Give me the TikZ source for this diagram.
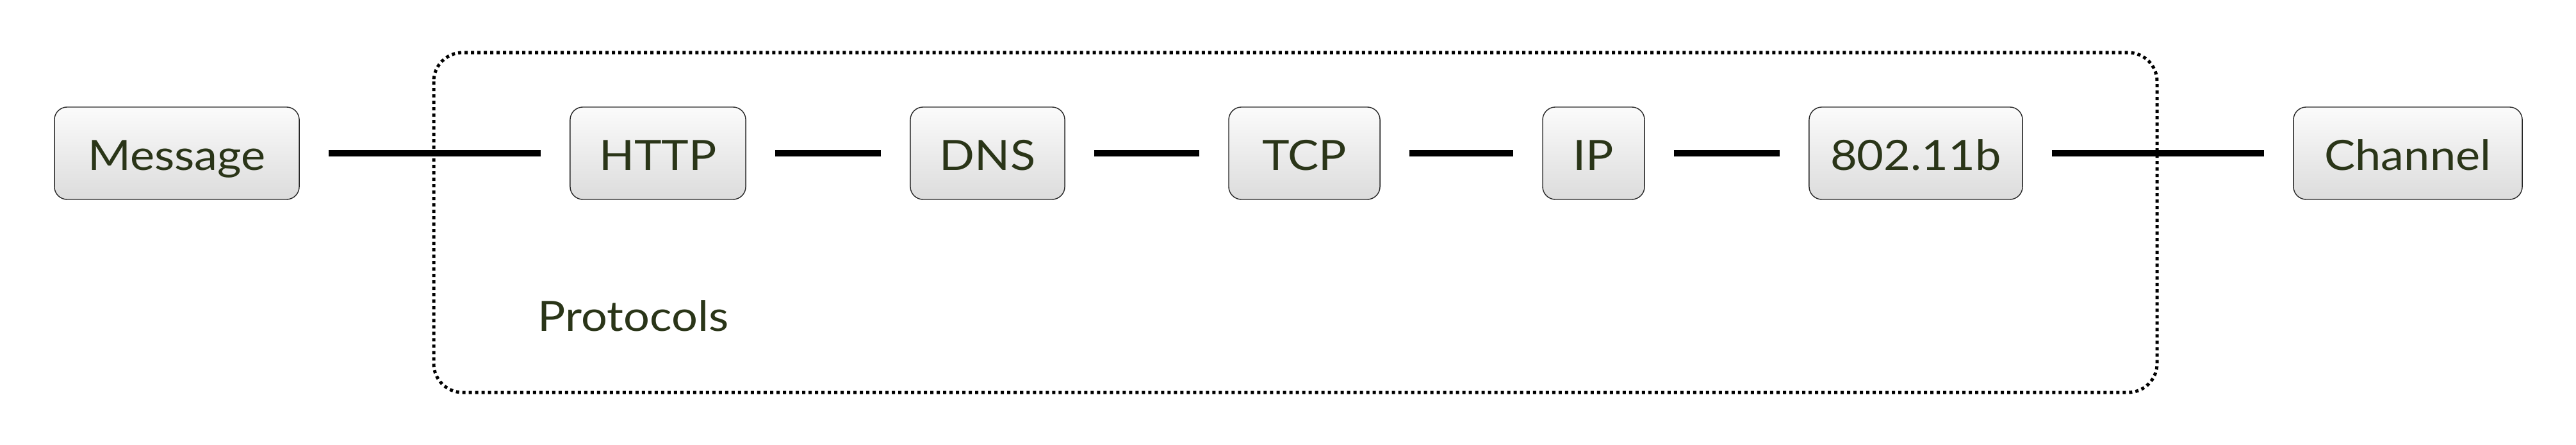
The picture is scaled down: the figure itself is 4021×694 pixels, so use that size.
\documentclass[tikz,border=0pt]{standalone}
\usepackage{fontspec}
\setmainfont[FakeStretch=1.11]{Lato}
\definecolor{txt}{RGB}{42,53,24}
\definecolor{boxbot}{RGB}{220,220,220}
\definecolor{boxtop}{RGB}{251,251,251}
\begin{document}
\begin{tikzpicture}[x=0.01cm,y=-0.01cm,
  proto/.style={draw=black!85, line width=0.4pt, rounded corners=0.2cm,
    top color=boxtop, bottom color=boxbot, minimum height=1.44cm,
    inner sep=0pt, text height=0.52cm, text depth=0pt,
    font=\fontsize{18.5}{20}\selectfont, text=txt},
  link/.style={line width=0.1cm, shorten <=0.45cm, shorten >=0.45cm},
  group/.style={line width=0.05cm, dash pattern=on 0.05cm off 0.05cm, rounded corners=0.45cm}]
\useasboundingbox (0,0) rectangle (4021,694);
\draw[group] (677,82) rectangle (3367,612);
\node[proto, minimum width=3.82cm] (msg) at (276,239) {Message};
\node[proto, minimum width=2.74cm] (http) at (1027,239) {HTTP};
\node[proto, minimum width=2.41cm] (dns) at (1541.5,239) {DNS};
\node[proto, minimum width=2.36cm] (tcp) at (2036,239) {TCP};
\node[proto, minimum width=1.59cm] (ip) at (2487.5,239) {IP};
\node[proto, minimum width=3.33cm] (wifi) at (2990.5,239) {802.11b};
\node[proto, minimum width=3.57cm] (chan) at (3758.5,239) {Channel};
\node[text=txt, inner sep=0pt, anchor=base west, font=\fontsize{18.5}{20}\selectfont] (lbl) at (839,516) {Protocols};
\draw[link] (msg) -- (http);
\draw[link] (http) -- (dns);
\draw[link] (dns) -- (tcp);
\draw[link] (tcp) -- (ip);
\draw[link] (ip) -- (wifi);
\draw[link] (wifi) -- (chan);
\end{tikzpicture}
\end{document}
